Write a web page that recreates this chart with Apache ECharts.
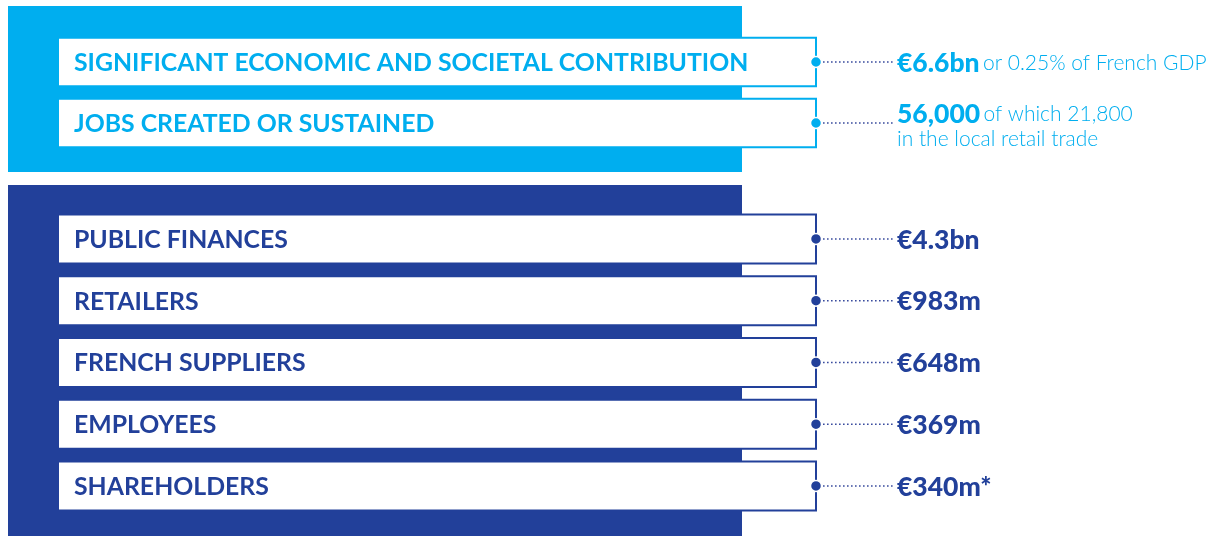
<!DOCTYPE html>
<html>
<head>
<meta charset="utf-8">
<script src="https://cdn.jsdelivr.net/npm/echarts@6/dist/echarts.min.js"></script>
<style>html,body{margin:0;padding:0;background:#fff;}#c{width:1222px;height:536px;}</style>
</head>
<body>
<div id="c"></div>
<script>
// ---- data ----
const topCategories = ['SIGNIFICANT ECONOMIC AND SOCIETAL CONTRIBUTION', 'JOBS CREATED OR SUSTAINED'];
const topValues = ['€6.6bn', '56,000'];
const topNotes = [['or 0.25% of French GDP'], ['of which 21,800', 'in the local retail trade']];
const bottomCategories = ['PUBLIC FINANCES', 'RETAILERS', 'FRENCH SUPPLIERS', 'EMPLOYEES', 'SHAREHOLDERS'];
const bottomValues = ['€4.3bn', '€983m', '€648m', '€369m', '€340m*'];

// ---- style ----
const LIGHT = '#00aeef';
const DARK = '#22409a';
const DOT_LINE = '#3a4c9e';
const FONT = 'Lato';

const chart = echarts.init(document.getElementById('c'), null, {renderer: 'canvas'});

function makeRender(cats, values, notes, color) {
  return function (params, api) {
    const idx = api.value(0);
    const cy = api.coord([0, idx])[1];
    const h = api.size([0, 1])[1] * 0.795;
    const xL = api.coord([58, idx])[0];
    const xR = api.coord([816, idx])[0];
    const xT = api.coord([897, idx])[0];
    const children = [
      {type: 'rect', shape: {x: xL, y: cy - h / 2, width: xR - xL, height: h},
       style: {fill: '#fff', stroke: color, lineWidth: 2}},
      {type: 'text', style: {text: cats[idx], x: api.coord([74, idx])[0], y: cy + 1,
        fill: color, font: 'bold 24.8px ' + FONT, verticalAlign: 'middle', align: 'left'}},
      {type: 'line', shape: {x1: xR + 7, y1: cy, x2: xT - 4, y2: cy},
       style: {stroke: DOT_LINE, lineWidth: 1.6, lineDash: [1.6, 2.4]}},
      {type: 'circle', shape: {cx: xR, cy: cy, r: 5.5},
       style: {fill: color, stroke: '#fff', lineWidth: 1.5}}
    ];
    let txt;
    const noteLines = notes ? notes[idx] : null;
    if (noteLines) {
      txt = '{v|' + values[idx] + '} {n|' + noteLines[0] + '}';
      for (let i = 1; i < noteLines.length; i++) txt += '\n{n|' + noteLines[i] + '}';
    } else {
      txt = '{v|' + values[idx] + '}';
    }
    const rich = {
      v: {fontFamily: FONT, fontWeight: 900, fontSize: 26.5, fill: color, color: color, lineHeight: 25},
      n: {fontFamily: FONT, fontWeight: 300, fontSize: 21, fill: color, color: color, lineHeight: 25}
    };
    const lines = noteLines ? noteLines.length : 1;
    children.push({type: 'text', style: {text: txt, rich: rich, x: xT, y: cy + 1 + (lines - 1) * 2.5,
      verticalAlign: 'middle', align: 'left', fill: color}});
    return {type: 'group', children: children};
  };
}

const option = {
  animation: false,
  backgroundColor: '#fff',
  grid: [
    {left: 0, right: 0, top: 31.5, height: 122},
    {left: 0, right: 0, top: 208.1, height: 308.75}
  ],
  xAxis: [
    {type: 'value', min: 0, max: 1222, show: false, gridIndex: 0},
    {type: 'value', min: 0, max: 1222, show: false, gridIndex: 1}
  ],
  yAxis: [
    {type: 'category', data: topCategories, inverse: true, show: false, gridIndex: 0},
    {type: 'category', data: bottomCategories, inverse: true, show: false, gridIndex: 1}
  ],
  graphic: [
    {type: 'rect', z: 0, shape: {x: 8, y: 6, width: 734, height: 166}, style: {fill: LIGHT}},
    {type: 'rect', z: 0, shape: {x: 8, y: 185, width: 734, height: 360}, style: {fill: DARK}}
  ],
  series: [
    {type: 'custom', xAxisIndex: 0, yAxisIndex: 0, z: 10,
     data: topCategories.map((c, i) => [i]), encode: {y: 0},
     renderItem: makeRender(topCategories, topValues, topNotes, LIGHT)},
    {type: 'custom', xAxisIndex: 1, yAxisIndex: 1, z: 10,
     data: bottomCategories.map((c, i) => [i]), encode: {y: 0},
     renderItem: makeRender(bottomCategories, bottomValues, null, DARK)}
  ]
};
chart.setOption(option);
</script>
</body>
</html>
